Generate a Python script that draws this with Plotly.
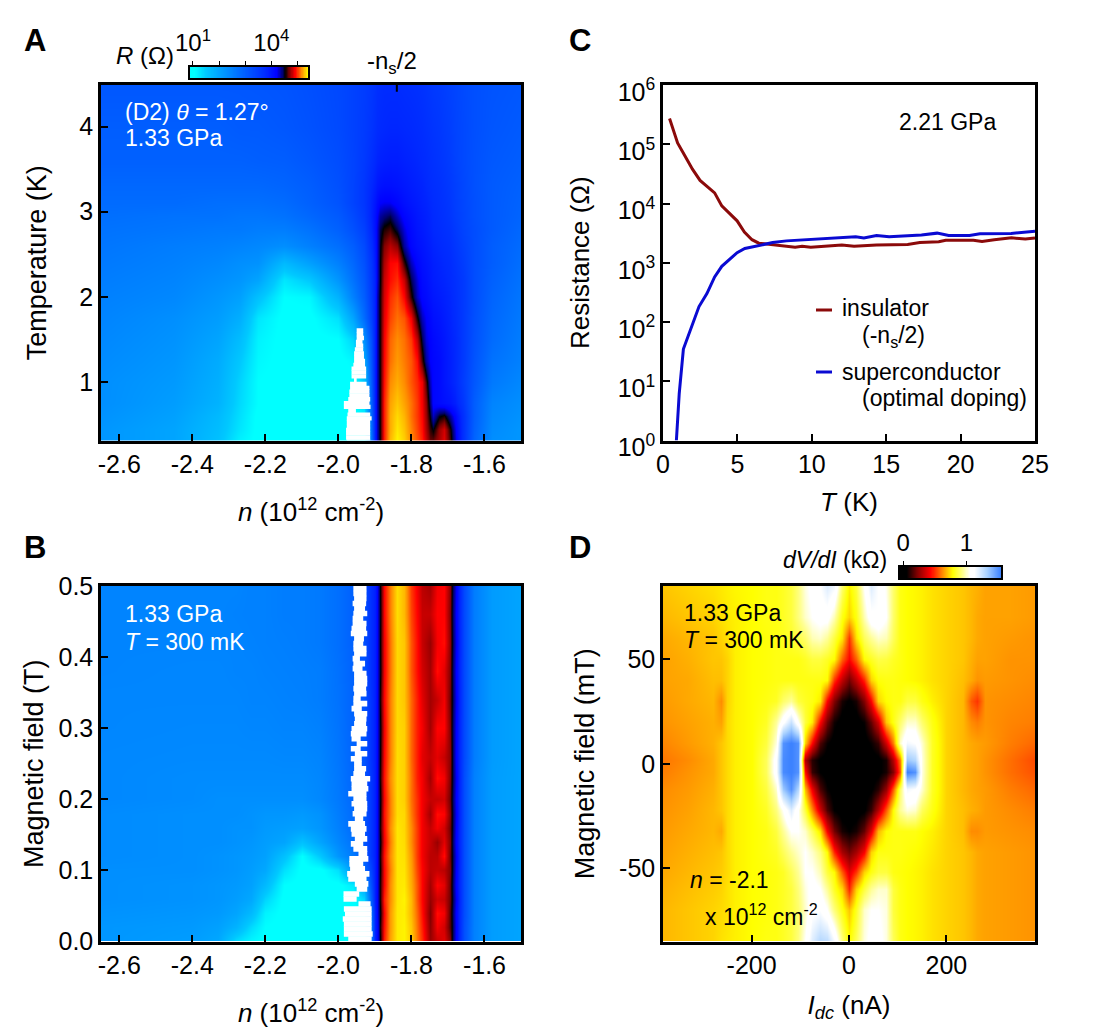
import numpy as np
import plotly.graph_objects as go

W, H = 1096, 1033

# ---------- Panel A: log10 R(n, T) ----------
A_n = [-2.65,-2.45,-2.33,-2.27,-2.22,-2.15,-2.08,-2.0,-1.96,-1.93,-1.91,-1.90,-1.893,-1.885,-1.875,-1.86,
       -1.84,-1.82,-1.80,-1.785,-1.77,-1.76,-1.75,-1.74,-1.725,-1.71,-1.695,-1.68,-1.66,-1.63,-1.58,-1.5]
A_T = [0.3,0.45,0.6,0.75,1.0,1.25,1.5,1.75,2.0,2.2,2.4,2.6,2.8,2.95,3.1,3.3,3.6,4.0,4.5]
A_logR = [
 [2.2,2.0,1.6,1.15,1.0,1.0,1.0,1.0,1.0,1.0,2.6,3.9,4.3,4.55,4.95,5.25,5.38,5.3,5.15,5.05,4.95,4.8,4.65,4.65,4.75,4.85,4.6,4.3,3.7,2.9,2.3,2.2],
 [2.2,2.0,1.65,1.25,1.0,1.0,1.0,1.0,1.0,1.1,2.7,3.9,4.3,4.55,4.95,5.22,5.35,5.27,5.13,5.02,4.92,4.75,4.58,4.5,4.72,4.82,4.55,4.25,3.7,2.95,2.35,2.2],
 [2.25,2.05,1.7,1.3,1.0,1.0,1.0,1.0,1.0,1.2,2.8,3.9,4.3,4.55,4.95,5.22,5.32,5.24,5.1,5.0,4.9,4.72,4.5,4.3,4.5,4.55,4.35,4.15,3.7,3.0,2.4,2.25],
 [2.3,2.1,1.8,1.35,1.05,1.0,1.0,1.0,1.0,1.3,2.9,3.9,4.3,4.55,4.95,5.2,5.28,5.2,5.1,5.0,4.88,4.7,4.4,4.15,4.1,4.05,4.0,3.9,3.6,3.0,2.45,2.3],
 [2.3,2.15,1.85,1.4,1.05,1.0,1.0,1.0,1.0,1.5,3.0,3.9,4.3,4.55,4.92,5.15,5.22,5.15,5.05,4.97,4.87,4.6,4.3,4.15,4.1,4.0,3.9,3.8,3.5,3.1,2.6,2.4],
 [2.35,2.2,1.9,1.5,1.1,1.0,1.0,1.0,1.1,1.9,3.1,3.9,4.3,4.55,4.9,5.1,5.18,5.12,5.05,4.92,4.6,4.35,4.2,4.15,4.1,4.0,3.9,3.8,3.55,3.15,2.7,2.5],
 [2.4,2.25,2.0,1.65,1.15,1.0,1.0,1.05,1.4,2.3,3.2,3.9,4.3,4.55,4.88,5.08,5.15,5.1,5.0,4.78,4.45,4.25,4.18,4.12,4.05,3.98,3.88,3.8,3.55,3.2,2.8,2.55],
 [2.45,2.3,2.1,1.85,1.25,1.0,1.0,1.3,2.0,2.8,3.4,3.9,4.3,4.55,4.85,5.02,5.1,5.05,4.88,4.55,4.3,4.2,4.12,4.05,4.0,3.93,3.85,3.75,3.55,3.22,2.85,2.6],
 [2.5,2.4,2.2,2.05,1.6,1.05,1.1,1.8,2.5,3.0,3.5,3.9,4.3,4.55,4.82,4.98,5.05,4.9,4.57,4.3,4.15,4.1,4.03,3.98,3.93,3.88,3.82,3.72,3.55,3.25,2.9,2.65],
 [2.55,2.45,2.3,2.2,2.0,1.25,1.5,2.2,2.7,3.1,3.55,3.9,4.25,4.52,4.8,4.92,4.98,4.8,4.45,4.25,4.1,4.05,3.98,3.93,3.88,3.84,3.78,3.7,3.55,3.25,2.95,2.7],
 [2.6,2.5,2.4,2.3,2.25,1.7,2.05,2.5,2.85,3.2,3.6,3.95,4.25,4.52,4.75,4.9,4.92,4.58,4.3,4.15,4.05,4.0,3.95,3.9,3.85,3.8,3.75,3.65,3.5,3.25,3.0,2.75],
 [2.65,2.55,2.5,2.45,2.4,2.3,2.5,2.75,3.0,3.3,3.7,4.0,4.25,4.5,4.68,4.78,4.7,4.35,4.15,4.05,4.0,3.95,3.9,3.85,3.8,3.75,3.7,3.6,3.45,3.25,3.0,2.8],
 [2.7,2.65,2.6,2.6,2.55,2.55,2.7,2.95,3.2,3.45,3.8,4.05,4.25,4.45,4.55,4.6,4.45,4.25,4.1,4.0,3.95,3.9,3.85,3.8,3.75,3.7,3.65,3.55,3.4,3.25,3.05,2.85],
 [2.75,2.7,2.7,2.65,2.65,2.7,2.85,3.05,3.3,3.55,3.85,4.05,4.2,4.35,4.4,4.45,4.3,4.15,4.05,3.97,3.92,3.88,3.83,3.78,3.72,3.67,3.6,3.5,3.38,3.22,3.05,2.9],
 [2.8,2.8,2.75,2.75,2.75,2.8,2.95,3.15,3.4,3.6,3.85,4.0,4.1,4.2,4.22,4.22,4.15,4.05,3.98,3.93,3.88,3.85,3.8,3.75,3.7,3.65,3.58,3.48,3.36,3.22,3.05,2.92],
 [2.85,2.85,2.85,2.85,2.85,2.9,3.0,3.2,3.4,3.6,3.8,3.9,3.97,4.02,4.05,4.05,4.02,3.97,3.92,3.88,3.85,3.8,3.75,3.72,3.68,3.62,3.55,3.47,3.35,3.2,3.05,2.95],
 [2.95,2.95,2.95,2.95,2.98,3.0,3.1,3.25,3.4,3.55,3.7,3.8,3.85,3.88,3.9,3.92,3.92,3.88,3.85,3.82,3.78,3.75,3.7,3.67,3.62,3.57,3.5,3.42,3.32,3.2,3.08,3.0],
 [3.0,3.0,3.0,3.05,3.05,3.1,3.18,3.3,3.42,3.52,3.62,3.7,3.75,3.78,3.8,3.82,3.82,3.8,3.78,3.75,3.72,3.68,3.65,3.62,3.58,3.52,3.47,3.4,3.32,3.22,3.12,3.05],
 [3.1,3.1,3.1,3.1,3.12,3.15,3.22,3.32,3.42,3.5,3.58,3.65,3.7,3.72,3.75,3.75,3.75,3.72,3.7,3.68,3.65,3.62,3.58,3.55,3.52,3.48,3.42,3.38,3.3,3.22,3.15,3.1],
]
# White (off-scale low) cells in panel A: one row per temperature
A_white_T = [0.3,0.345,0.39,0.435,0.48,0.525,0.57,0.615,0.66,0.705,0.75,0.795,0.84,0.885,0.93,0.975,1.02,1.065,1.11,1.155,1.2,1.245,1.29,1.335,1.38,1.425,1.47,1.515,1.56,1.605]
A_white_L = [-1.977,-1.979,-1.979,-1.979,-1.977,-1.977,-1.977,-1.975,-1.973,-1.985,-1.985,-1.973,-1.970,-1.970,-1.968,-1.968,-1.955,-1.964,-1.964,-1.964,-1.959,-1.957,-1.957,-1.957,-1.955,-1.952,-1.952,-1.950,-1.950,-1.950]
A_white_R = [-1.913,-1.913,-1.913,-1.913,-1.913,-1.913,-1.909,-1.913,-1.952,-1.912,-1.915,-1.913,-1.915,-1.915,-1.915,-1.923,-1.950,-1.924,-1.924,-1.924,-1.927,-1.927,-1.930,-1.930,-1.932,-1.932,-1.934,-1.930,-1.932,-1.932]

# ---------- Panel B: log10 R(n, B) ----------
B_n = [-2.65,-2.4,-2.33,-2.28,-2.24,-2.2,-2.15,-2.1,-2.05,-2.0,-1.96,-1.93,-1.91,-1.90,-1.892,-1.885,-1.875,-1.86,-1.84,-1.82,
       -1.80,-1.785,-1.77,-1.75,-1.73,-1.71,-1.695,-1.688,-1.675,-1.655,-1.63,-1.58,-1.5]
B_field = [0,0.02,0.04,0.06,0.08,0.10,0.12,0.14,0.16,0.18,0.20,0.23,0.26,0.30,0.34,0.38,0.42,0.46,0.50]
B_logR = [
 [2.2,2.1,1.95,1.3,1.1,1.0,1.0,1.0,1.0,1.0,1.0,1.0,2.5, 3.85,4.25,4.5,4.95,5.2,5.36,5.38,5.3,5.12,4.98,4.72,4.8,4.85,4.7,4.5,4.1,3.2,2.5,2.1,2.0],
 [2.2,2.15,2.05,1.8,1.35,1.05,1.0,1.0,1.0,1.0,1.0,1.0,2.5, 3.85,4.25,4.55,4.92,5.18,5.36,5.38,5.28,5.1,4.95,4.7,4.88,4.82,4.62,4.5,4.12,3.2,2.5,2.1,2.0],
 [2.25,2.2,2.15,2.0,1.7,1.15,1.0,1.0,1.0,1.0,1.0,1.1,2.7, 3.85,4.3,4.5,4.9,5.18,5.36,5.37,5.25,5.08,4.92,4.68,4.92,4.88,4.62,4.48,4.1,3.25,2.5,2.1,2.0],
 [2.3,2.25,2.2,2.1,1.95,1.4,1.0,1.0,1.0,1.0,1.0,1.4,3.0, 3.9,4.3,4.55,4.95,5.15,5.35,5.38,5.25,5.05,4.9,4.72,4.82,4.8,4.65,4.5,4.15,3.25,2.5,2.1,2.0],
 [2.3,2.25,2.2,2.15,2.05,1.7,1.05,1.0,1.0,1.0,1.2,2.0,3.2, 3.9,4.3,4.55,4.9,5.15,5.35,5.36,5.22,5.05,4.9,4.74,4.9,4.85,4.65,4.48,4.1,3.25,2.5,2.1,2.0],
 [2.3,2.3,2.25,2.2,2.1,1.95,1.3,1.0,1.0,1.3,2.2,2.8,3.4, 3.9,4.3,4.52,4.9,5.12,5.35,5.35,5.2,5.02,4.9,4.78,4.8,4.78,4.68,4.5,4.12,3.25,2.5,2.1,2.0],
 [2.35,2.3,2.25,2.2,2.15,2.05,1.6,1.05,1.5,2.2,2.6,3.0,3.6, 3.9,4.3,4.55,4.92,5.15,5.35,5.34,5.18,5.0,4.88,4.78,4.78,4.92,4.65,4.5,4.15,3.25,2.5,2.1,2.0],
 [2.35,2.3,2.3,2.25,2.2,2.1,2.0,1.6,2.0,2.4,2.7,3.1,3.6, 3.9,4.3,4.5,4.88,5.12,5.35,5.33,5.15,5.0,4.88,4.8,4.72,4.85,4.68,4.48,4.1,3.25,2.5,2.1,2.0],
 [2.35,2.3,2.3,2.25,2.25,2.15,2.1,2.05,2.2,2.5,2.8,3.1,3.6, 3.9,4.3,4.55,4.9,5.15,5.35,5.32,5.15,5.0,4.88,4.8,4.88,4.82,4.65,4.5,4.12,3.25,2.5,2.1,2.0],
 [2.35,2.3,2.3,2.3,2.25,2.2,2.2,2.15,2.25,2.55,2.8,3.1,3.6, 3.9,4.3,4.52,4.92,5.12,5.33,5.32,5.12,4.98,4.88,4.74,4.92,4.9,4.68,4.5,4.15,3.25,2.5,2.1,2.0],
 [2.4,2.35,2.3,2.3,2.3,2.3,2.3,2.3,2.4,2.6,2.85,3.1,3.6, 3.9,4.3,4.5,4.9,5.12,5.33,5.3,5.1,4.98,4.88,4.8,4.8,4.82,4.65,4.48,4.12,3.25,2.5,2.1,2.0],
 [2.4,2.35,2.35,2.35,2.35,2.35,2.35,2.35,2.42,2.62,2.88,3.12,3.6, 3.9,4.3,4.55,4.92,5.15,5.33,5.3,5.1,4.95,4.88,4.74,4.92,4.88,4.68,4.5,4.15,3.25,2.5,2.1,2.0],
 [2.4,2.38,2.38,2.38,2.38,2.38,2.4,2.4,2.45,2.65,2.9,3.15,3.65, 3.9,4.3,4.52,4.9,5.12,5.33,5.3,5.08,4.95,4.85,4.8,4.85,4.8,4.7,4.5,4.1,3.3,2.55,2.12,2.0],
 [2.42,2.4,2.4,2.4,2.42,2.42,2.45,2.45,2.5,2.68,2.92,3.15,3.65, 3.9,4.3,4.5,4.88,5.12,5.32,5.3,5.08,4.95,4.88,4.74,4.9,4.9,4.68,4.48,4.12,3.3,2.55,2.12,2.0],
 [2.42,2.42,2.42,2.42,2.45,2.45,2.48,2.5,2.55,2.7,2.92,3.18,3.65, 3.9,4.3,4.55,4.9,5.12,5.32,5.28,5.08,4.95,4.85,4.74,4.8,4.88,4.65,4.5,4.15,3.3,2.55,2.12,2.0],
 [2.45,2.42,2.42,2.45,2.45,2.48,2.5,2.52,2.55,2.72,2.92,3.18,3.7, 3.9,4.3,4.5,4.88,5.1,5.32,5.28,5.05,4.92,4.82,4.74,4.92,4.85,4.68,4.48,4.12,3.3,2.55,2.12,2.0],
 [2.45,2.45,2.45,2.45,2.48,2.5,2.52,2.55,2.6,2.75,2.95,3.2,3.7, 3.9,4.3,4.52,4.88,5.1,5.32,5.28,5.05,4.92,4.8,4.72,4.88,4.92,4.7,4.5,4.15,3.3,2.55,2.12,2.0],
 [2.45,2.45,2.45,2.48,2.5,2.5,2.55,2.55,2.6,2.75,2.95,3.2,3.7, 3.9,4.3,4.5,4.9,5.12,5.33,5.25,5.02,4.9,4.8,4.8,4.9,4.9,4.68,4.48,4.12,3.3,2.55,2.12,2.0],
 [2.45,2.45,2.45,2.45,2.5,2.5,2.55,2.55,2.6,2.75,2.95,3.2,3.7, 3.9,4.3,4.52,4.9,5.12,5.33,5.25,5.0,4.88,4.78,4.74,4.88,4.9,4.7,4.5,4.15,3.3,2.55,2.12,2.0],
]
# White cells in panel B, top row to bottom row, one row per field step
B_white_L = [-1.959,-1.959,-1.957,-1.961,-1.957,-1.959,-1.961,-1.961,-1.964,-1.966,-1.957,-1.959,-1.959,-1.957,-1.961,-1.959,-1.961,-1.957,-1.957,-1.957,-1.959,-1.957,-1.959,-1.959,-1.964,-1.957,-1.955,-1.957,-1.964,-1.966,-1.964,-1.950,-1.966,-1.955,-1.966,-1.957,
             -1.957,-1.959,-1.966,-1.964,-1.964,-1.973,-1.959,-1.964,-1.957,-1.961,-1.955,-1.973,-1.966,-1.964,-1.955,-1.966,-1.959,-1.945,-1.970,-1.970,-1.968,-1.976,-1.973,-1.955,-1.950,-1.986,-1.986,-1.945,-1.985,-1.982,-1.988,-1.985,-1.985,-1.985,-1.973]
B_white_R = [-1.923,-1.923,-1.923,-1.924,-1.927,-1.921,-1.932,-1.923,-1.924,-1.921,-1.930,-1.932,-1.923,-1.923,-1.941,-1.927,-1.934,-1.923,-1.921,-1.921,-1.924,-1.923,-1.939,-1.921,-1.936,-1.921,-1.923,-1.924,-1.921,-1.923,-1.939,-1.921,-1.939,-1.921,-1.936,-1.936,
             -1.924,-1.927,-1.913,-1.921,-1.918,-1.923,-1.923,-1.921,-1.921,-1.923,-1.932,-1.927,-1.923,-1.927,-1.921,-1.932,-1.921,-1.921,-1.918,-1.932,-1.927,-1.915,-1.923,-1.918,-1.921,-1.943,-1.950,-1.912,-1.909,-1.909,-1.909,-1.909,-1.909,-1.906,-1.909]

# ---------- Panel C ----------
ins_T = [0.44,0.98,1.44,1.98,2.49,2.95,3.47,3.95,4.47,4.98,5.47,5.98,6.44,7.14,7.84,8.88,9.35,9.93,10.86,12.02,12.84,14.35,16.44,17.26,18.53,19.0,20.86,21.44,22.26,23.42,24.35,25.0]
ins_R = [273000,105000,66000,38000,24500,19500,15100,9100,6800,5100,3300,2450,2140,2040,1900,1820,1900,1820,1900,2000,1900,2000,2040,2190,2260,2400,2400,2290,2450,2630,2510,2630]
sc_T = [0.9,1.09,1.37,1.9,2.42,2.95,3.47,3.95,4.47,4.98,5.5,6.44,7.37,8.3,9.7,11.3,12.95,13.5,14.35,15.2,17.37,18.42,19.2,20.6,21.3,23.4,24.35,25.0]
sc_R = [1.0,6.2,35,83,182,302,575,871,1120,1480,1740,1950,2190,2340,2450,2630,2750,2630,2880,2750,2950,3160,2880,2880,3090,3130,3310,3390]

# ---------- Panel D: dV/dI (kOhm) ----------
D_I = [-382,-330,-280,-262,-250,-235,-200,-170,-150,-135,-120,-105,-90,-75,-60,-45,-30,-15,0,15,30,45,60,75,90,105,120,135,150,170,200,235,250,262,280,330,382]
D_B = [85,70,60,50,40,30,20,10,2,-4,-12,-22,-32,-42,-52,-60,-70,-85]
D_dVdI = [
 [.70,.72,.74,.75,.76,.77,.78,.8,.8,.82,.85,.92,1.02,1.08,1.12,1.2,1.15,.9,.76,.85,1.05,1.2,1.12,1.03,.9,.8,.78,.77,.76,.74,.72,.7,.68,.67,.65,.65,.64],
 [.68,.70,.72,.74,.75,.76,.78,.8,.8,.82,.85,.92,1.0,1.05,1.08,1.08,.98,.8,.72,.8,.98,1.1,1.12,1.05,.9,.8,.78,.77,.76,.74,.72,.7,.68,.66,.65,.65,.64],
 [.66,.68,.7,.72,.74,.76,.78,.79,.8,.81,.83,.86,.9,.98,1.0,.95,.85,.74,.5,.74,.88,.95,1.0,.98,.88,.8,.78,.77,.76,.74,.72,.7,.68,.66,.65,.64,.63],
 [.65,.67,.7,.7,.72,.76,.78,.79,.8,.8,.8,.8,.82,.85,.85,.82,.78,.56,.43,.56,.78,.82,.86,.85,.82,.8,.78,.77,.76,.74,.72,.7,.67,.65,.65,.63,.63],
 [.65,.66,.69,.69,.72,.76,.78,.79,.8,.8,.8,.8,.8,.8,.8,.78,.5,.32,.2,.32,.48,.72,.79,.8,.8,.79,.78,.77,.76,.74,.72,.69,.66,.63,.64,.63,.62],
 [.64,.66,.68,.62,.72,.76,.78,.8,.82,.9,.95,.85,.82,.8,.75,.43,.22,.08,.04,.08,.22,.43,.72,.78,.8,.8,.85,.85,.8,.76,.72,.68,.55,.5,.63,.62,.61],
 [.63,.65,.67,.65,.73,.76,.78,.82,.95,1.1,1.25,1.05,.85,.75,.43,.2,.07,.02,.02,.02,.06,.18,.35,.7,.8,.9,1.0,1.0,.9,.8,.72,.68,.62,.6,.63,.61,.6],
 [.61,.64,.67,.7,.73,.76,.78,.85,1.02,1.5,1.55,1.5,.72,.43,.15,.06,.02,.01,0,.01,.02,.06,.12,.35,.6,1.0,1.15,1.12,1.0,.82,.72,.68,.66,.65,.64,.6,.57],
 [.59,.62,.66,.7,.73,.76,.78,.88,1.1,1.52,1.55,1.5,.3,.1,.04,.02,.01,0,0,0,.01,.02,.03,.08,.3,.6,1.35,1.3,1.02,.82,.72,.68,.66,.65,.63,.58,.53],
 [.6,.63,.66,.7,.73,.76,.78,.88,1.1,1.52,1.55,1.5,.45,.12,.05,.02,.01,0,0,0,.01,.02,.03,.08,.22,.55,1.55,1.5,1.02,.82,.72,.68,.66,.65,.63,.58,.54],
 [.62,.64,.67,.7,.73,.76,.78,.85,1.0,1.35,1.5,1.3,.68,.4,.15,.06,.02,.01,.01,.01,.02,.04,.1,.25,.55,.9,1.15,1.12,1.0,.82,.72,.68,.66,.65,.64,.6,.57],
 [.63,.65,.68,.7,.73,.76,.78,.82,.92,1.05,1.2,1.05,.85,.62,.35,.15,.05,.02,.02,.02,.04,.12,.3,.55,.78,.95,1.02,1.0,.88,.8,.72,.69,.67,.66,.64,.62,.6],
 [.64,.66,.68,.66,.73,.76,.78,.8,.85,.95,1.05,1.05,1.0,.88,.74,.42,.2,.08,.05,.08,.18,.38,.68,.78,.8,.8,.8,.8,.78,.76,.72,.69,.62,.62,.64,.63,.62],
 [.65,.67,.69,.7,.73,.76,.78,.8,.82,.88,.95,1.0,1.05,1.0,.92,.78,.48,.28,.2,.28,.42,.72,.8,.8,.8,.8,.79,.78,.77,.75,.72,.7,.68,.66,.65,.64,.63],
 [.66,.68,.7,.71,.73,.76,.78,.79,.8,.82,.88,.95,1.05,1.05,.98,.85,.78,.55,.38,.5,.72,.8,.85,.85,.8,.79,.78,.77,.76,.74,.72,.7,.68,.66,.65,.64,.63],
 [.67,.69,.71,.72,.74,.76,.78,.79,.8,.82,.85,.92,1.02,1.08,1.05,.95,.82,.72,.48,.72,.85,.95,1.0,1.0,.85,.8,.78,.77,.76,.74,.72,.7,.68,.66,.65,.64,.63],
 [.68,.7,.72,.73,.74,.76,.78,.79,.8,.82,.85,.9,1.0,1.1,1.12,1.05,.92,.8,.7,.82,1.0,1.05,1.05,1.02,.85,.8,.78,.77,.76,.74,.72,.7,.68,.66,.65,.64,.63],
 [.68,.7,.72,.74,.75,.76,.78,.8,.8,.82,.85,.92,1.05,1.2,1.3,1.28,1.15,.92,.78,.88,1.02,1.08,1.08,1.02,.88,.8,.78,.77,.76,.74,.72,.7,.68,.66,.65,.64,.63],
]

# Colour scales (value, colour)
R_min, R_max = 0.886, 5.405
R_stops = [(0.886,"rgb(0,255,255)"),(1.05,"rgb(0,255,255)"),(1.5,"rgb(0,200,255)"),(2.2,"rgb(0,150,255)"),(2.9,"rgb(0,100,255)"),
           (3.8,"rgb(0,40,255)"),(4.2,"rgb(0,0,255)"),(4.42,"rgb(0,0,110)"),(4.52,"rgb(0,0,0)"),(4.68,"rgb(130,0,0)"),(4.9,"rgb(255,0,0)"),
           (5.15,"rgb(255,140,0)"),(5.405,"rgb(255,255,0)")]
D_min, D_max = -0.05, 1.545
D_stops = [(-0.05,"rgb(0,0,0)"),(0.05,"rgb(0,0,0)"),(0.22,"rgb(130,0,0)"),(0.43,"rgb(255,0,0)"),(0.62,"rgb(255,140,0)"),(0.78,"rgb(255,255,0)"),
           (0.95,"rgb(255,255,150)"),(1.05,"rgb(255,255,255)"),(1.12,"rgb(255,255,255)"),(1.32,"rgb(170,210,255)"),(1.545,"rgb(60,130,255)")]
def scale(stops, lo, hi):
    return [[(v-lo)/(hi-lo), c] for v, c in stops]

FONT = "Liberation Sans"
TICK = 25

def dom_x(a, b): return [a/W, b/W]
def dom_y(top, bot): return [1-bot/H, 1-top/H]

fig = go.Figure()
R_scale = scale(R_stops,R_min,R_max)
D_scale = scale(D_stops,D_min,D_max)

fig.add_trace(go.Heatmap(x=A_n, y=A_T, z=A_logR, xaxis="x", yaxis="y", zsmooth="best",
    zmin=R_min, zmax=R_max, colorscale=R_scale, showscale=False, hoverinfo="skip"))
step = A_white_T[1]-A_white_T[0]
fig.add_trace(go.Bar(y=A_white_T, x=[r-l for l,r in zip(A_white_L,A_white_R)], base=A_white_L, orientation="h", width=step*1.12,
    marker=dict(color="white", line=dict(width=0)), xaxis="x", yaxis="y", showlegend=False, hoverinfo="skip"))

fig.add_trace(go.Heatmap(x=B_n, y=B_field, z=B_logR, xaxis="x2", yaxis="y2", zsmooth="best",
    zmin=R_min, zmax=R_max, colorscale=R_scale, showscale=False, hoverinfo="skip"))
n_rows = len(B_white_L)
B_white_field = [0.5-(i+0.5)*0.5/n_rows for i in range(n_rows)]
fig.add_trace(go.Bar(y=B_white_field, x=[r-l for l,r in zip(B_white_L,B_white_R)], base=B_white_L, orientation="h", width=0.5/n_rows*1.12,
    marker=dict(color="white", line=dict(width=0)), xaxis="x2", yaxis="y2", showlegend=False, hoverinfo="skip"))

fig.add_trace(go.Scatter(x=ins_T, y=ins_R, mode="lines", name="insulator", line=dict(color="#8b0a0a", width=3), xaxis="x3", yaxis="y3", showlegend=False))
fig.add_trace(go.Scatter(x=sc_T, y=sc_R, mode="lines", name="superconductor", line=dict(color="#0a0ad2", width=3), xaxis="x3", yaxis="y3", showlegend=False))

fig.add_trace(go.Heatmap(x=D_I, y=D_B, z=D_dVdI, xaxis="x4", yaxis="y4", zsmooth="best",
    zmin=D_min, zmax=D_max, colorscale=D_scale, showscale=False, hoverinfo="skip"))

# Colour bars drawn as small heatmaps on their own axes, so their ticks can sit on top
cbar_R = np.linspace(R_min, R_max, 200).tolist()
cbar_D = np.linspace(D_min, D_max, 200).tolist()
fig.add_trace(go.Heatmap(x=cbar_R, y=[0,1], z=[cbar_R,cbar_R], xaxis="x5", yaxis="y5", zsmooth="best",
    zmin=R_min, zmax=R_max, colorscale=R_scale, showscale=False, hoverinfo="skip"))
fig.add_trace(go.Heatmap(x=cbar_D, y=[0,1], z=[cbar_D,cbar_D], xaxis="x6", yaxis="y6", zsmooth="best",
    zmin=D_min, zmax=D_max, colorscale=D_scale, showscale=False, hoverinfo="skip"))

def axis(domain, rng, anchor, title_size=26, **kw):
    d = dict(domain=domain, range=rng, anchor=anchor, showline=True, mirror=True, linecolor="black", linewidth=2.5,
             ticks="inside", ticklen=7, tickwidth=2, tickcolor="black", showgrid=False, zeroline=False, automargin=False,
             tickfont=dict(family=FONT,size=TICK,color="black"), title_font=dict(family=FONT,size=title_size,color="black"))
    d.update(kw)
    return d

def cbar_axes(domain_x, domain_y, rng, anchor, vals, text):
    xa = dict(domain=domain_x, range=rng, anchor=anchor, side="top", showline=True, mirror=True, linecolor="black", linewidth=2,
              ticks="outside", ticklen=4, tickwidth=1, tickcolor="black", showgrid=False, zeroline=False,
              tickmode="array", tickvals=vals, ticktext=text, tickfont=dict(family=FONT,size=24,color="black"))
    ya = dict(domain=domain_y, range=[0,1], showline=True, mirror=True, linecolor="black", linewidth=2,
              showticklabels=False, ticks="", showgrid=False, zeroline=False)
    return xa, ya

xa5, ya5 = cbar_axes(dom_x(190,308), dom_y(67,78), [R_min,R_max], "y5", [1,2,3,4,5], ["10<sup>1</sup>"," "," ","10<sup>4</sup>"," "])
xa6, ya6 = cbar_axes(dom_x(900,1001), dom_y(567,578), [D_min,D_max], "y6", [0,1], ["0","1"])
ya5["anchor"]="x5"; ya6["anchor"]="x6"

n_ticks = [-2.6,-2.4,-2.2,-2.0,-1.8,-1.6]
n_text = ["-2.6","-2.4","-2.2","-2.0","-1.8","-1.6"]
n_title = "<i>n</i> (10<sup>12</sup> cm<sup>-2</sup>)"
fig.update_layout(
    width=W, height=H, margin=dict(l=0,r=0,t=0,b=0,autoexpand=False), paper_bgcolor="white", plot_bgcolor="white", showlegend=False,
    font=dict(family=FONT,color="black"), barmode="overlay",
    xaxis=axis(dom_x(101,521),[-2.65,-1.5],"y",tickmode="array",tickvals=n_ticks,ticktext=n_text,title=dict(text=n_title,standoff=26)),
    yaxis=axis(dom_y(85,440.5),[0.31,4.49],"x",title_size=27,tickmode="array",tickvals=[1,2,3,4],title=dict(text="Temperature (K)",standoff=25)),
    xaxis2=axis(dom_x(101,521),[-2.65,-1.5],"y2",tickmode="array",tickvals=n_ticks,ticktext=n_text,title=dict(text=n_title,standoff=26)),
    yaxis2=axis(dom_y(586,941.5),[0,0.5],"x2",title_size=27,tickmode="array",tickvals=[0,0.1,0.2,0.3,0.4,0.5],ticktext=["0.0","0.1","0.2","0.3","0.4","0.5"],title=dict(text="Magnetic field (T)",standoff=8)),
    xaxis3=axis(dom_x(663,1035),[0,25],"y3",tickmode="array",tickvals=[0,5,10,15,20,25],title=dict(text="<i>T</i> (K)",standoff=16)),
    yaxis3=axis(dom_y(85,440.5),[0,6],"x3",type="log",tickmode="array",tickvals=[1,10,100,1000,10000,100000,1000000],ticklabelshift=7,
                ticktext=["10<sup>%d</sup>"%i for i in range(7)],title=dict(text="Resistance (Ω)",standoff=21)),
    xaxis4=axis(dom_x(663,1035),[-382,382],"y4",tickmode="array",tickvals=[-200,0,200],ticktext=["-200","0","200"],title=dict(text="<i>I<sub>dc</sub></i> (nA)",standoff=18)),
    yaxis4=axis(dom_y(586,941.5),[-85,85],"x4",title_size=27,tickmode="array",tickvals=[-50,0,50],ticktext=["-50","0","50"],title=dict(text="Magnetic field (mT)",standoff=17)),
    xaxis5=xa5, yaxis5=ya5, xaxis6=xa6, yaxis6=ya6,
)

def note(px, py, text, size=23, color="black", anchor="left", bold=False):
    fig.add_annotation(x=px/W, y=1-py/H, xref="paper", yref="paper", text=("<b>%s</b>"%text if bold else text), showarrow=False,
                       xanchor=anchor, yanchor="middle", align="left", borderpad=0, borderwidth=0, font=dict(family=FONT,size=size,color=color))

note(35,40,"A",31,bold=True,anchor="center")
note(35,547,"B",31,bold=True,anchor="center")
note(580,40,"C",31,bold=True,anchor="center")
note(580,547,"D",31,bold=True,anchor="center")
note(116,56,"<i>R</i> (Ω)",24)
note(367,63,"-n<sub>s</sub>/2",24)
note(125,112,"(D2) <i>θ</i> = 1.27°",23,"white")
note(125,138,"1.33 GPa",23,"white")
note(125,614,"1.33 GPa",23,"white")
note(125,642,"<i>T</i> = 300 mK",23,"white")
note(899,122,"2.21 GPa",23)
note(684,613,"1.33 GPa",23)
note(684,640,"<i>T</i> = 300 mK",23)
note(690,880,"<i>n</i> = -2.1",23)
note(705,915,"x 10<sup>12</sup> cm<sup>-2</sup>",23)
note(783,560,"<i>dV/dI</i> (kΩ)",23)
# Panel C key
note(842,308,"insulator",23)
note(862,336,"(-n<sub>s</sub>/2)",23)
note(842,372,"superconductor",23)
note(862,398,"(optimal doping)",23)
for yy, col in ((310,"#8b0a0a"),(372,"#0a0ad2")):
    fig.add_shape(type="line", xref="paper", yref="paper", x0=816/W, x1=832/W, y0=1-yy/H, y1=1-yy/H, line=dict(color=col,width=3))

fig.add_shape(type="line", xref="x", yref="y", x0=-1.84, x1=-1.84, y0=4.49, y1=4.41, line=dict(color="black",width=2))

fig.write_html("out.html", config={"displayModeBar":False}, post_script="document.body.style.margin='0';document.body.style.overflow='hidden';")
